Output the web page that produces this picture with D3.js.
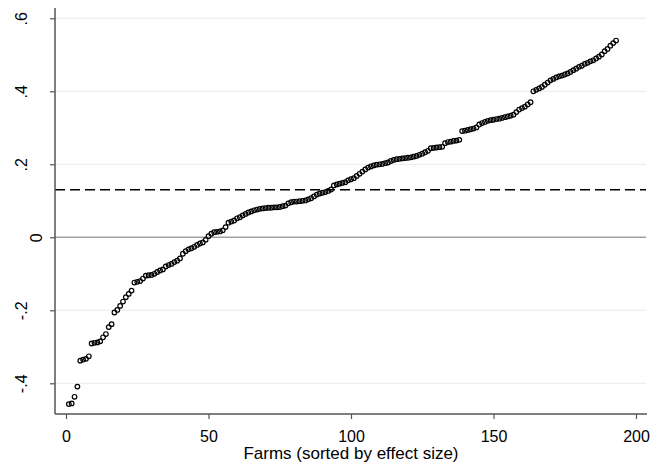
<!DOCTYPE html>
<html>
<head>
<meta charset="utf-8">
<script src="https://cdn.jsdelivr.net/npm/d3@7"></script>
<style>
html,body{margin:0;padding:0;background:#fff;}
svg{display:block;font-family:"Liberation Sans",Arial,sans-serif;}
</style>
</head>
<body>
<svg id="chart" width="651" height="464"></svg>
<script>
// Effect sizes of farms, sorted (farm rank 1..193)
const effects = [
-0.457,-0.455,-0.437,-0.409,-0.338,-0.335,-0.333,-0.326,-0.291,-0.289,
-0.288,-0.285,-0.274,-0.265,-0.246,-0.238,-0.206,-0.199,-0.188,-0.176,
-0.164,-0.155,-0.146,-0.124,-0.122,-0.120,-0.113,-0.105,-0.104,-0.103,
-0.100,-0.095,-0.091,-0.088,-0.080,-0.076,-0.073,-0.068,-0.064,-0.058,
-0.045,-0.038,-0.033,-0.030,-0.026,-0.021,-0.017,-0.014,-0.007,0.003,
0.010,0.014,0.015,0.016,0.019,0.028,0.040,0.043,0.046,0.052,
0.055,0.060,0.064,0.068,0.071,0.074,0.076,0.078,0.079,0.080,
0.081,0.081,0.082,0.082,0.083,0.085,0.087,0.093,0.096,0.098,
0.098,0.099,0.100,0.101,0.104,0.107,0.112,0.117,0.120,0.122,
0.124,0.127,0.131,0.142,0.145,0.147,0.149,0.151,0.156,0.159,
0.162,0.168,0.174,0.180,0.186,0.191,0.194,0.197,0.199,0.200,
0.201,0.203,0.205,0.209,0.212,0.214,0.215,0.216,0.217,0.218,
0.219,0.221,0.223,0.226,0.229,0.233,0.237,0.244,0.245,0.246,
0.247,0.248,0.258,0.261,0.262,0.264,0.265,0.267,0.291,0.292,
0.294,0.296,0.298,0.301,0.309,0.313,0.316,0.319,0.321,0.322,
0.324,0.325,0.327,0.329,0.331,0.333,0.336,0.343,0.350,0.354,
0.358,0.364,0.370,0.400,0.404,0.408,0.412,0.418,0.424,0.430,
0.434,0.438,0.441,0.443,0.446,0.449,0.453,0.458,0.462,0.467,
0.470,0.475,0.478,0.482,0.485,0.490,0.495,0.501,0.510,0.516,
0.525,0.532,0.539
];
const farms = effects.map((d, i) => i + 1);
const meanEffect = 0.13;
const xTicks = [0, 50, 100, 150, 200];
const yTicks = [-0.4, -0.2, 0, 0.2, 0.4, 0.6];
const yTickLabels = ["-.4", "-.2", "0", ".2", ".4", ".6"];
const xTitle = "Farms (sorted by effect size)";

const svg = d3.select("#chart");
const pLeft = 55, pRight = 646, pTop = 8, pBottom = 414;

const x = d3.scaleLinear().domain([0, 200]).range([66, 636]);
const y = d3.scaleLinear().domain([-0.4, 0.6]).range([383.3, 18.3]);

// gridlines
svg.append("g").selectAll("line").data(yTicks.filter(t => t !== 0)).join("line")
  .attr("x1", pLeft).attr("x2", pRight)
  .attr("y1", d => y(d)).attr("y2", d => y(d))
  .attr("stroke", "#e4edf0").attr("stroke-width", 1);

// zero line
svg.append("line")
  .attr("x1", pLeft).attr("x2", pRight)
  .attr("y1", y(0)).attr("y2", y(0))
  .attr("stroke", "#a0a0a0").attr("stroke-width", 1.5);

// dashed mean line
svg.append("line")
  .attr("x1", pLeft).attr("x2", pRight)
  .attr("y1", y(meanEffect)).attr("y2", y(meanEffect))
  .attr("stroke", "#000").attr("stroke-width", 1.5)
  .attr("stroke-dasharray", "10,5");

// points
svg.append("g").selectAll("circle").data(effects).join("circle")
  .attr("cx", (d, i) => x(farms[i]))
  .attr("cy", d => y(d))
  .attr("r", 2.3)
  .attr("fill", "none")
  .attr("stroke", "#000")
  .attr("stroke-width", 1.2);

// axes
const yAxis = d3.axisLeft(y).tickValues(yTicks).tickSize(5).tickPadding(0)
  .tickFormat((d, i) => yTickLabels[i]);
const gy = svg.append("g").attr("transform", `translate(${pLeft},0)`).call(yAxis);
gy.select(".domain").remove();
gy.append("line").attr("x1", 0).attr("x2", 0).attr("y1", pTop).attr("y2", pBottom)
  .attr("stroke", "#555").attr("stroke-width", 1.5);
gy.selectAll(".tick line").attr("stroke", "#555").attr("stroke-width", 1.2);
gy.selectAll(".tick text")
  .attr("font-size", 16).attr("fill", "#000")
  .attr("text-anchor", "middle")
  .attr("x", null).attr("dy", null)
  .attr("transform", d => `translate(${d === 0 ? -13 : -28},0) rotate(-90)`);

const xAxis = d3.axisBottom(x).tickValues(xTicks).tickSize(5).tickPadding(0);
const gx = svg.append("g").attr("transform", `translate(0,${pBottom})`).call(xAxis);
gx.select(".domain").remove();
gx.append("line").attr("x1", pLeft).attr("x2", pRight + 1).attr("y1", 0).attr("y2", 0)
  .attr("stroke", "#555").attr("stroke-width", 1.5);
gx.selectAll(".tick line").attr("stroke", "#555").attr("stroke-width", 1.2);
gx.selectAll(".tick text")
  .attr("font-size", 16).attr("fill", "#000")
  .attr("y", 27.5).attr("dy", null);

svg.append("text")
  .attr("x", 351).attr("y", 459)
  .attr("text-anchor", "middle")
  .attr("font-size", 17)
  .attr("fill", "#000")
  .text(xTitle);
</script>
</body>
</html>
